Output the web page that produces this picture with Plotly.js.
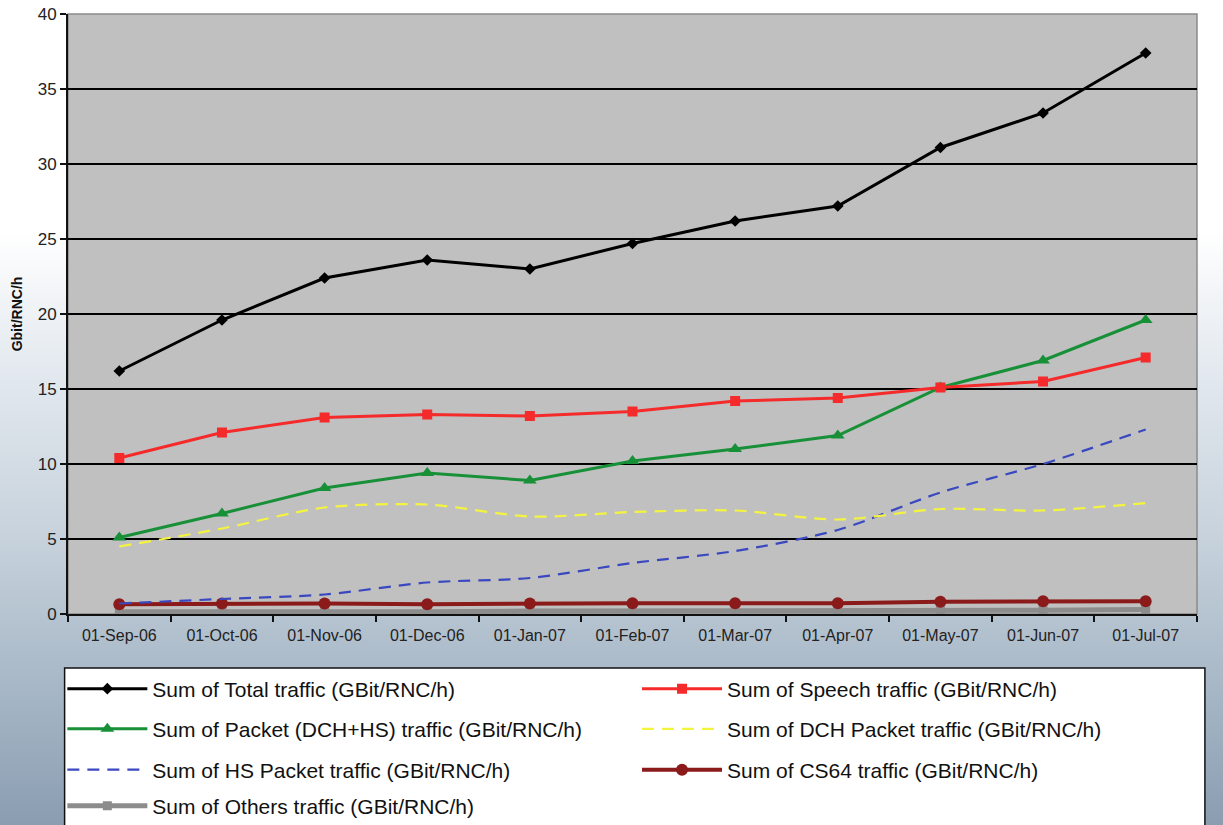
<!DOCTYPE html>
<html>
<head>
<meta charset="utf-8">
<script src="https://cdn.plot.ly/plotly-3.0.1.min.js"></script>
<style>
html,body{margin:0;padding:0;}
body{width:1223px;height:825px;overflow:hidden;
background:linear-gradient(to bottom,#ffffff 0%,#ffffff 28%,#e3e9ef 45%,#c7d2dc 65%,#a9b9c8 82%,#8a9db1 100%);}
#chart{width:1223px;height:825px;}
</style>
</head>
<body>
<div id="chart"></div>
<script>
const months = ["01-Sep-06","01-Oct-06","01-Nov-06","01-Dec-06","01-Jan-07","01-Feb-07","01-Mar-07","01-Apr-07","01-May-07","01-Jun-07","01-Jul-07"];
const totalTraffic  = [16.2, 19.6, 22.4, 23.6, 23.0, 24.7, 26.2, 27.2, 31.1, 33.4, 37.4];
const speechTraffic = [10.4, 12.1, 13.1, 13.3, 13.2, 13.5, 14.2, 14.4, 15.1, 15.5, 17.1];
const packetTraffic = [5.1, 6.7, 8.4, 9.4, 8.9, 10.2, 11.0, 11.9, 15.1, 16.9, 19.6];
const dchPacket     = [4.5, 5.7, 7.1, 7.3, 6.5, 6.8, 6.9, 6.3, 7.0, 6.9, 7.4];
const hsPacket      = [0.7, 1.0, 1.3, 2.1, 2.4, 3.4, 4.2, 5.6, 8.1, 10.0, 12.3];
const cs64Traffic   = [0.65, 0.7, 0.7, 0.65, 0.7, 0.72, 0.72, 0.72, 0.82, 0.85, 0.85];
const othersTraffic = [0.15, 0.15, 0.1, 0.15, 0.2, 0.2, 0.2, 0.2, 0.25, 0.25, 0.3];
const seriesNames = [
  "Sum of Total traffic (GBit/RNC/h)",
  "Sum of Speech traffic (GBit/RNC/h)",
  "Sum of Packet (DCH+HS) traffic (GBit/RNC/h)",
  "Sum of DCH Packet traffic (GBit/RNC/h)",
  "Sum of HS Packet traffic (GBit/RNC/h)",
  "Sum of CS64 traffic (GBit/RNC/h)",
  "Sum of Others traffic (GBit/RNC/h)"
];

const traces = [
  {x: months, y: othersTraffic, name: seriesNames[6], legend: "legend7", mode: "lines+markers",
   line: {color: "#8c8c8c", width: 5}, marker: {symbol: "square", size: 9, color: "#8c8c8c"}},
  {x: months, y: cs64Traffic, name: seriesNames[5], legend: "legend6", mode: "lines+markers",
   line: {color: "#8b1a1a", width: 4}, marker: {symbol: "circle", size: 12, color: "#8b1a1a"}},
  {x: months, y: hsPacket, name: seriesNames[4], legend: "legend5", mode: "lines",
   line: {color: "#3a48c0", width: 2.2, dash: "12px,8px", shape: "spline", smoothing: 0.8}},
  {x: months, y: dchPacket, name: seriesNames[3], legend: "legend4", mode: "lines",
   line: {color: "#f4f440", width: 2.2, dash: "12px,8px", shape: "spline", smoothing: 0.8}},
  {x: months, y: packetTraffic, name: seriesNames[2], legend: "legend3", mode: "lines+markers",
   line: {color: "#179038", width: 3}, marker: {symbol: "triangle-up", size: 12, color: "#179038"}},
  {x: months, y: speechTraffic, name: seriesNames[1], legend: "legend2", mode: "lines+markers",
   line: {color: "#f52a2a", width: 3}, marker: {symbol: "square", size: 10, color: "#f52a2a"}},
  {x: months, y: totalTraffic, name: seriesNames[0], legend: "legend", mode: "lines+markers",
   line: {color: "#000000", width: 3}, marker: {symbol: "diamond", size: 9, color: "#000000"}}
];

function mkLegend(x, y) {
  return {
    orientation: "h", xanchor: "left", yanchor: "middle", x: x, y: y,
    bgcolor: "rgba(0,0,0,0)", borderwidth: 0,
    font: {family: "Arial, Liberation Sans, sans-serif", size: 21, color: "#111"},
    itemwidth: 80, itemclick: false, itemdoubleclick: false
  };
}
const colL = -0.005, colR = 0.504;
const rowY = [-0.125, -0.192, -0.26, -0.32];

const layout = {
  width: 1223, height: 825,
  paper_bgcolor: "rgba(0,0,0,0)",
  plot_bgcolor: "#c0c0c0",
  margin: {l: 68, r: 26, t: 14, b: 211, autoexpand: false},
  font: {family: "Arial, Liberation Sans, sans-serif", color: "#222"},
  xaxis: {
    type: "category", range: [-0.5, 10.5],
    showgrid: false, zeroline: false,
    showline: true, linecolor: "#111", linewidth: 2,
    ticks: "outside", ticklen: 6, tickcolor: "#111", tickwidth: 1.5,
    tickson: "boundaries", ticklabelstandoff: 6,
    tickfont: {size: 16, color: "#222"}
  },
  yaxis: {
    range: [0, 40], dtick: 5, tick0: 0,
    showgrid: true, gridcolor: "#000000", gridwidth: 1.5,
    zeroline: false,
    showline: true, linecolor: "#111", linewidth: 2,
    ticks: "outside", ticklen: 6, tickcolor: "#111", tickwidth: 1.5,
    tickfont: {size: 17, color: "#222"},
    title: {text: "<b>Gbit/RNC/h</b>", font: {size: 14, color: "#111"}, standoff: 12}
  },
  legend:  mkLegend(colL, rowY[0]),
  legend2: mkLegend(colR, rowY[0]),
  legend3: mkLegend(colL, rowY[1]),
  legend4: mkLegend(colR, rowY[1]),
  legend5: mkLegend(colL, rowY[2]),
  legend6: mkLegend(colR, rowY[2]),
  legend7: mkLegend(colL, rowY[3]),
  shapes: [
    {type: "rect", xref: "paper", yref: "paper", x0: 0, x1: 1, y0: 0, y1: 1,
     line: {color: "#8a8a8a", width: 1.5}, layer: "below"},
    {type: "rect", xref: "paper", yref: "paper", x0: -0.003, x1: 1.007, y0: -0.09, y1: -0.37,
     fillcolor: "#ffffff", line: {color: "#111", width: 1.5}, layer: "below"}
  ],
  showlegend: true
};

Plotly.newPlot("chart", traces, layout, {displayModeBar: false});
</script>
</body>
</html>
